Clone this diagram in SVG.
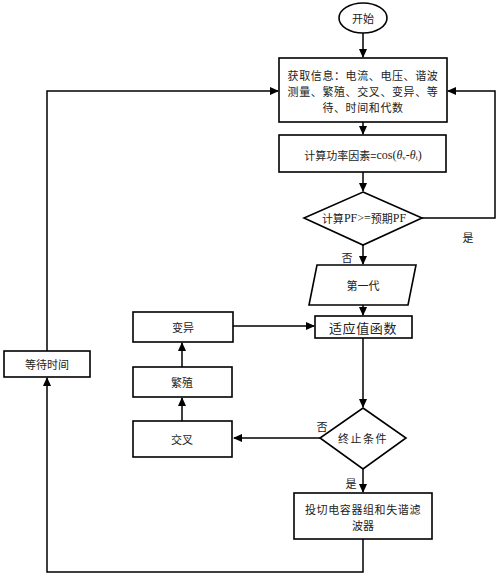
<svg xmlns="http://www.w3.org/2000/svg" width="500" height="577" viewBox="0 0 500 577">
<style>
.n{fill:#fff;stroke:#000;stroke-width:1.6}
.c{fill:none;stroke:#000;stroke-width:1.5}
text{font-family:"Noto Sans CJK SC","Noto Sans",sans-serif;font-size:11px;fill:#222;text-anchor:middle;dominant-baseline:central}
.s{font-family:"Liberation Serif","Noto Sans CJK SC",serif;font-size:12px}
.big{font-size:13px}
</style>
<defs>
<marker id="a" markerWidth="9" markerHeight="8" refX="8" refY="4" orient="auto" markerUnits="userSpaceOnUse">
<path d="M0,0 L9,4 L0,8 z" fill="#000"/>
</marker>
</defs>
<g id="connectors">
<path class="c" d="M363,33 V57" marker-end="url(#a)"/>
<path class="c" d="M363,122 V134" marker-end="url(#a)"/>
<path class="c" d="M363,172 V191" marker-end="url(#a)"/>
<path class="c" d="M422,218 H495 V91 H448" marker-end="url(#a)"/>
<path class="c" d="M363,245 V264" marker-end="url(#a)"/>
<path class="c" d="M363,305 V315" marker-end="url(#a)"/>
<path class="c" d="M363,338 V407" marker-end="url(#a)"/>
<path class="c" d="M320,438 H234" marker-end="url(#a)"/>
<path class="c" d="M182,421 V398" marker-end="url(#a)"/>
<path class="c" d="M182,367 V343" marker-end="url(#a)"/>
<path class="c" d="M233,326 H314" marker-end="url(#a)"/>
<path class="c" d="M363,469 V492" marker-end="url(#a)"/>
<path class="c" d="M363,539 V572 H47 V378" marker-end="url(#a)"/>
<path class="c" d="M47,351 V91 H278" marker-end="url(#a)"/>
<text x="468" y="237">是</text>
<text x="347" y="257">否</text>
<text x="322" y="426">否</text>
<text x="351" y="483">是</text>
</g>
<g id="start">
<ellipse class="n" cx="363" cy="18" rx="24" ry="15"/>
<text x="363" y="18">开始</text>
</g>
<g id="getinfo">
<rect class="n" x="279" y="58" width="168" height="64"/>
<text x="363" y="75" style="letter-spacing:0.6px">获取信息：电流、电压、谐波</text>
<text x="363" y="91" style="letter-spacing:0.6px">测量、繁殖、交叉、变异、等</text>
<text x="363" y="107" style="letter-spacing:0.6px">待、时间和代数</text>
</g>
<g id="calcpf">
<rect class="n" x="279" y="135" width="167" height="37"/>
<text x="363" y="155">计算功率因素=<tspan class="s">cos(<tspan font-style="italic">θ</tspan><tspan font-size="7" dy="3">v</tspan><tspan dy="-3">-</tspan><tspan font-style="italic">θ</tspan><tspan font-size="7" dy="3">i</tspan><tspan dy="-3">)</tspan></tspan></text>
</g>
<g id="decision1">
<polygon class="n" points="363,192 422,218 363,245 304,218"/>
<text x="364" y="218">计算<tspan class="s">PF&gt;=</tspan>预期<tspan class="s">PF</tspan></text>
</g>
<g id="firstgen">
<polygon class="n" points="317,265 416,265 408,305 309,305"/>
<text x="363" y="285">第一代</text>
</g>
<g id="fitness">
<rect class="n" x="315" y="316" width="97" height="22"/>
<text class="big" x="363" y="327" style="letter-spacing:0.6px">适应值函数</text>
</g>
<g id="mutation">
<rect class="n" x="133" y="312" width="100" height="30"/>
<text x="183" y="327">变异</text>
</g>
<g id="breed">
<rect class="n" x="133" y="367" width="99" height="30"/>
<text x="182" y="382">繁殖</text>
</g>
<g id="crossover">
<rect class="n" x="133" y="421" width="99" height="36"/>
<text x="182" y="439">交叉</text>
</g>
<g id="decision2">
<polygon class="n" points="363,408 406,438 363,469 320,438"/>
<text x="363" y="438" style="letter-spacing:1.5px">终止条件</text>
</g>
<g id="switch">
<rect class="n" x="294" y="493" width="138" height="46"/>
<text x="363" y="509" style="letter-spacing:0.6px">投切电容器组和失谐滤</text>
<text x="363" y="525">波器</text>
</g>
<g id="wait">
<rect class="n" x="4" y="351" width="86" height="26"/>
<text x="47" y="364">等待时间</text>
</g>
</svg>
